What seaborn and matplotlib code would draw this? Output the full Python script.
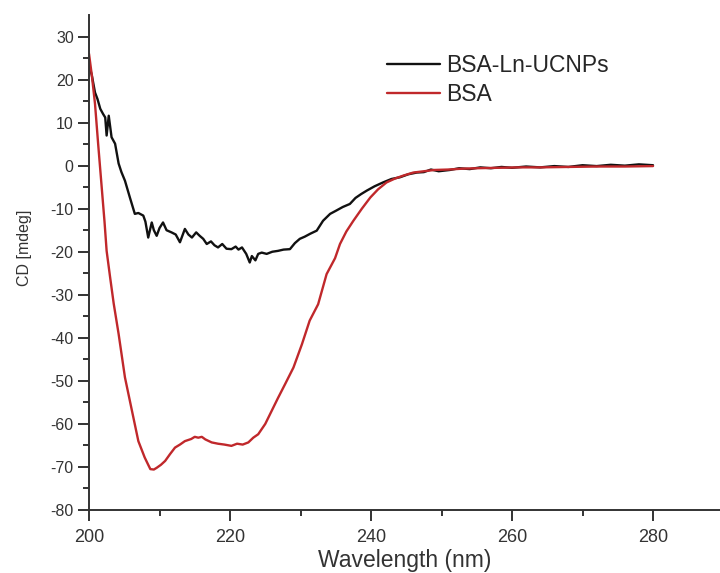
# CD 스펙트럼 : BSA vs BSA-Ln-UCNPs
import numpy as np
import pandas as pd
import seaborn as sns
import matplotlib.pyplot as plt

# 그래프에서 읽은 값 (파장 nm, CD mdeg)
black_wl = [200.0, 200.4, 200.85, 201.2, 201.6, 202.0, 202.3, 202.5, 202.8, 203.2,
            203.7, 204.2, 204.6, 205.1, 205.8, 206.5, 207.0, 207.7, 208.0, 208.4,
            208.9, 209.2, 209.6, 210.0, 210.5, 211.0, 211.7, 212.3, 212.9, 213.6,
            214.1, 214.6, 215.2, 215.7, 216.2, 216.7, 217.3, 217.8, 218.3, 218.9,
            219.5, 220.2, 220.8, 221.2, 221.7, 222.3, 222.8, 223.1, 223.6, 224.0,
            224.5, 225.2, 226.0, 226.8, 227.6, 228.5, 229.2, 229.9, 230.6, 231.4,
            232.3, 233.2, 234.2, 235.0, 236.0, 237.0, 237.8, 238.6, 239.4, 240.5,
            241.7, 242.9, 244.1, 245.3, 246.5, 247.5, 248.5, 249.6, 251.2, 252.5,
            254.0, 255.5, 257.0, 258.5, 260.0, 262.0, 264.0, 266.0, 268.0, 270.0,
            272.0, 274.0, 276.0, 278.0, 280.0]
black_cd = [23.5, 21.0, 17.0, 15.5, 13.2, 12.0, 11.2, 7.0, 11.6, 6.6,
            5.1, 0.5, -1.5, -3.5, -7.4, -11.2, -11.0, -11.6, -13.0, -16.7,
            -13.2, -15.0, -16.3, -14.5, -13.2, -15.0, -15.5, -16.0, -17.8, -14.7,
            -16.0, -16.7, -15.5, -16.3, -17.0, -18.2, -17.6, -18.5, -19.0, -18.2,
            -19.3, -19.4, -18.8, -19.5, -19.0, -20.5, -22.5, -21.0, -22.0, -20.5,
            -20.2, -20.5, -20.0, -19.8, -19.5, -19.4, -18.0, -17.0, -16.5, -15.8,
            -15.1, -12.8, -11.2, -10.5, -9.6, -8.9, -7.5, -6.6, -5.8, -4.8,
            -3.9, -3.1, -2.7, -2.0, -1.6, -1.5, -0.9, -1.3, -1.0, -0.6,
            -0.8, -0.4, -0.6, -0.3, -0.5, -0.2, -0.4, -0.1, -0.3, 0.1,
            -0.1, 0.2, 0.0, 0.3, 0.1]

red_wl = [200.0, 200.4, 200.85, 201.3, 201.8, 202.2, 202.5, 203.0, 203.5, 204.2,
          205.1, 206.1, 207.0, 207.9, 208.4, 208.7, 209.2, 209.6, 210.2, 210.8,
          211.5, 212.2, 212.9, 213.6, 214.5, 215.0, 215.5, 216.0, 216.5, 217.4,
          218.3, 219.2, 220.2, 221.0, 221.8, 222.6, 223.3, 224.0, 225.0, 225.9,
          226.8, 227.8, 229.0, 230.2, 231.3, 232.5, 233.7, 234.9, 235.6, 236.5,
          237.5, 238.7, 239.9, 241.0, 242.2, 243.4, 244.6, 246.0, 247.5, 249.0,
          251.0, 253.0, 255.0, 258.0, 261.0, 264.0, 268.0, 272.0, 276.0, 280.0]
red_cd = [26.0, 21.0, 14.4, 5.0, -5.0, -13.0, -19.8, -26.0, -32.0, -39.1,
          -49.2, -57.0, -64.0, -67.8, -69.5, -70.5, -70.6, -70.2, -69.5, -68.6,
          -67.0, -65.5, -64.8, -64.0, -63.5, -63.0, -63.2, -63.0, -63.6, -64.3,
          -64.6, -64.8, -65.1, -64.6, -64.8, -64.3, -63.2, -62.4, -60.0, -57.0,
          -54.0, -50.8, -46.9, -41.5, -36.0, -32.2, -25.2, -21.5, -18.2, -15.3,
          -12.8, -10.0, -7.4, -5.5, -3.9, -3.0, -2.3, -1.6, -1.3, -1.0,
          -0.9, -0.7, -0.6, -0.5, -0.4, -0.4, -0.3, -0.2, -0.2, -0.1]

labels = ['BSA-Ln-UCNPs', 'BSA']
colors = ['#111111', '#c0282b']

df = pd.concat([
    pd.DataFrame({'wl': black_wl, 'cd': black_cd, 'sample': labels[0]}),
    pd.DataFrame({'wl': red_wl, 'cd': red_cd, 'sample': labels[1]}),
])

sns.set_style('ticks')
plt.rcParams['font.family'] = ['Liberation Sans', 'DejaVu Sans']
plt.rcParams['axes.unicode_minus'] = False

fig = plt.figure(figsize=(7.2, 5.73), dpi=100)
ax = fig.add_axes([89 / 720, 63 / 573, 631 / 720, 495 / 573])

sns.lineplot(data=df, x='wl', y='cd', hue='sample', palette=colors,
             hue_order=labels, estimator=None, sort=False, linewidth=1.7, ax=ax)

ax.set_xlim(200, 289.5)
ax.set_ylim(-80, 35)
ax.set_xticks([200, 220, 240, 260, 280])
ax.set_xticks(np.arange(210, 290, 20), minor=True)
ax.set_yticks(np.arange(-80, 31, 10))
ax.set_yticks(np.arange(-75, 35, 10), minor=True)

sns.despine(ax=ax)
for s in ['left', 'bottom']:
    ax.spines[s].set_linewidth(1.4)
    ax.spines[s].set_color('#333333')
ax.tick_params(which='major', length=8, width=1.4, color='#333333')
ax.tick_params(which='minor', length=4.5, width=1.4, color='#333333')
ax.tick_params(axis='x', labelsize=13, labelcolor='#333333', pad=6)
ax.tick_params(axis='y', labelsize=11.5, labelcolor='#333333', pad=3)

ax.set_xlabel('Wavelength (nm)', fontsize=16.5, color='#333333')
ax.set_ylabel('CD [mdeg]', fontsize=11.5, color='#333333')
ax.xaxis.set_label_coords(0.5, -0.078)
ax.yaxis.set_label_coords(-0.09, 0.53)

handles, _ = ax.get_legend_handles_labels()
ax.legend(handles, labels, loc='center left', bbox_to_anchor=(387 / 720, 1 - 80 / 573),
          bbox_transform=fig.transFigure, frameon=False, fontsize=16.5,
          handlelength=2.3, handletextpad=0.3, labelspacing=0.28,
          borderpad=0, borderaxespad=0)

fig.savefig('out.png', dpi=100)
